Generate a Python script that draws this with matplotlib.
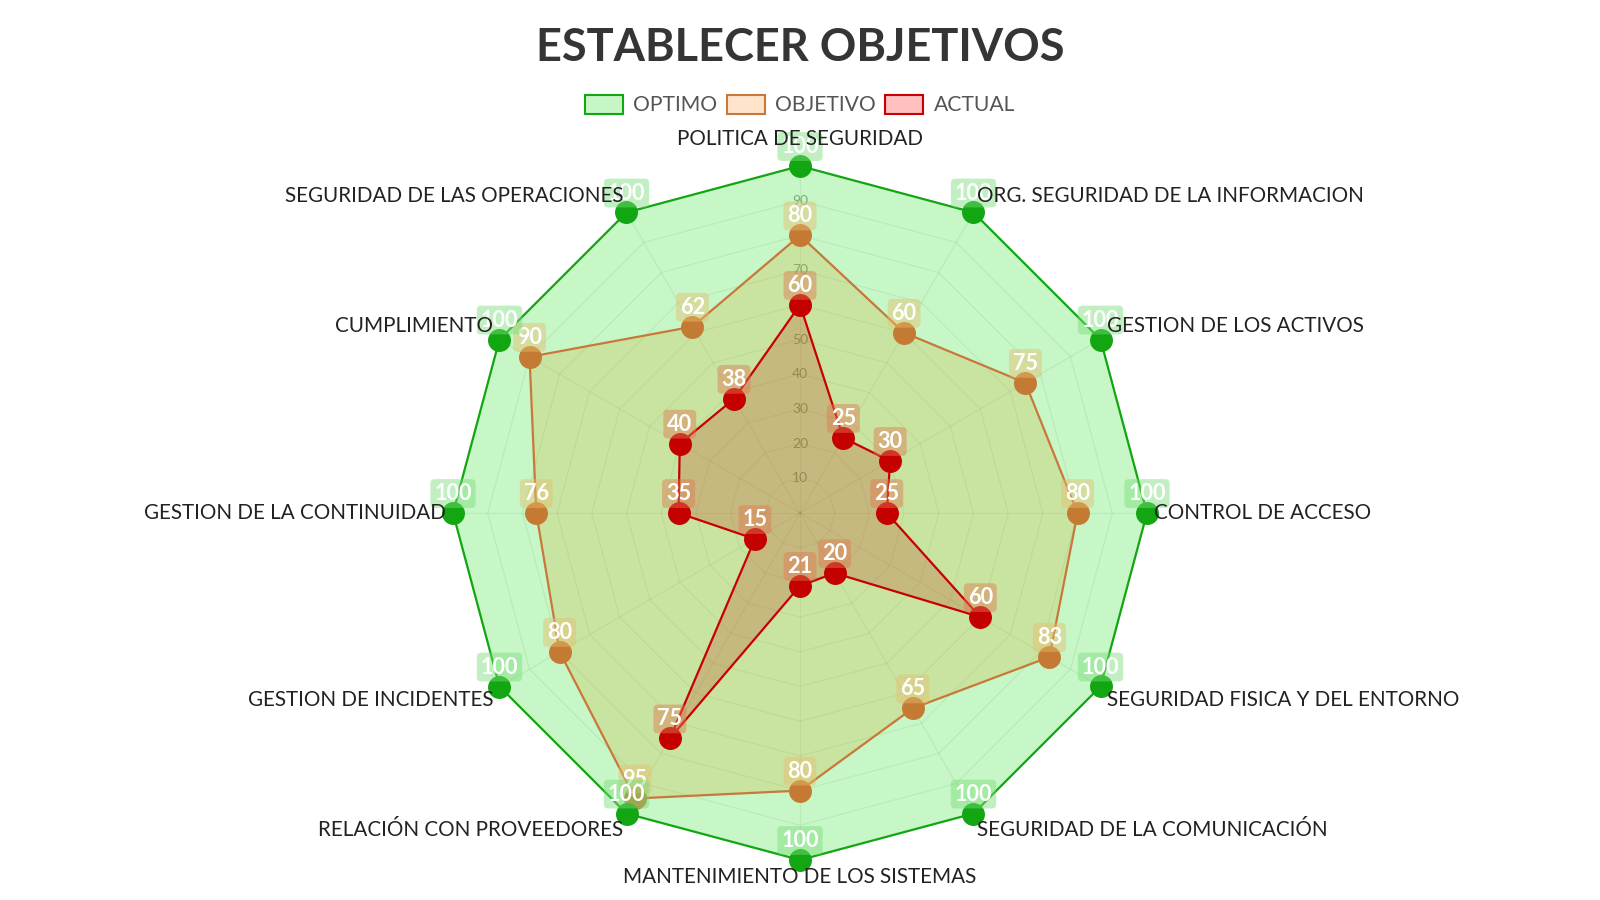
import numpy as np
import matplotlib.pyplot as plt
from matplotlib.patches import Patch

plt.rcParams['font.family'] = ['Lato', 'DejaVu Sans']

categorias = ['POLITICA DE SEGURIDAD', 'ORG. SEGURIDAD DE LA INFORMACION',
              'GESTION DE LOS ACTIVOS', 'CONTROL DE ACCESO',
              'SEGURIDAD FISICA Y DEL ENTORNO', 'SEGURIDAD DE LA COMUNICACIÓN',
              'MANTENIMIENTO DE LOS SISTEMAS', 'RELACIÓN CON PROVEEDORES',
              'GESTION DE INCIDENTES', 'GESTION DE LA CONTINUIDAD',
              'CUMPLIMIENTO', 'SEGURIDAD DE LAS OPERACIONES']
optimo = [100, 100, 100, 100, 100, 100, 100, 100, 100, 100, 100, 100]
objetivo = [80, 60, 75, 80, 83, 65, 80, 95, 80, 76, 90, 62]
actual = [60, 25, 30, 25, 60, 20, 21, 75, 15, 35, 40, 38]
niveles = [10, 20, 30, 40, 50, 60, 70, 80, 90, 100]
ticks = [10, 20, 30, 40, 50, 60, 70, 80, 90]

n = len(categorias)
theta = np.arange(n) * 2 * np.pi / n
theta_c = np.append(theta, theta[0])

fig = plt.figure(figsize=(16, 9), dpi=100)
ax = fig.add_axes([453 / 1600, 40 / 900, 694 / 1600, 694 / 900], projection='polar')
ax.set_theta_zero_location('N')
ax.set_theta_direction(-1)
ax.set_ylim(0, 100)
ax.set_xticks([])
ax.set_yticks([])
ax.grid(False)
ax.spines['polar'].set_visible(False)
ax.patch.set_alpha(0)

# rejilla poligonal
for r in niveles:
    ax.plot(theta_c, [r] * (n + 1), color=(0, 0, 0, 0.1), lw=0.9, zorder=0.5)
for t in theta:
    ax.plot([t, t], [0, 100], color=(0, 0, 0, 0.1), lw=0.9, zorder=0.5)
for r in ticks:
    ax.text(0, r, str(r), ha='center', va='center', fontsize=10,
            color='#666666', zorder=0.6)

series = [
    # valores, linea, punto, relleno, fondo etiqueta, z
    (optimo, '#12a612', '#12a612', (144/255, 238/255, 144/255, 0.5), (120/255, 220/255, 120/255, 0.45), 3),
    (objetivo, '#c8783a', '#c47a32', (210/255, 160/255, 10/255, 0.2), (230/255, 190/255, 110/255, 0.45), 2),
    (actual, '#c80000', '#c40000', (190/255, 15/255, 0, 0.2), (225/255, 120/255, 80/255, 0.45), 1),
]
for vals, lc, pc, fc, bc, z in series:
    v = np.append(vals, vals[0])
    ax.fill(theta_c, v, color=fc, lw=0, zorder=4 - z)
for vals, lc, pc, fc, bc, z in series:
    v = np.append(vals, vals[0])
    ax.plot(theta_c, v, color=lc, lw=1.6, zorder=4 + z)
    ax.plot(theta, vals, 'o', color=pc, markersize=15.5, mec=pc, zorder=4 + z + 0.5,
            clip_on=False)
for vals, lc, pc, fc, bc, z in series:
    for t, val in zip(theta, vals):
        ax.annotate(str(val), xy=(t, val), xytext=(0, 14), textcoords='offset points',
                    ha='center', va='center', color='white', fontweight='bold',
                    fontsize=15.6, annotation_clip=False, zorder=10 + z,
                    bbox=dict(boxstyle='round,pad=0.18,rounding_size=0.2', fc=bc, ec='none'))

# etiquetas de categorias
for i, (t, lab) in enumerate(zip(theta, categorias)):
    s, c = np.sin(t), np.cos(t)
    ha = 'center' if abs(s) < 1e-6 else ('left' if s > 0 else 'right')
    if abs(c) < 1e-6:
        va = 'center'
    elif c > 0:
        va = 'bottom'
    else:
        va = 'top'
    r = 105 if i == 0 else 102
    ax.text(t, r, lab, ha=ha, va=va, fontsize=14.9, color='#222222', clip_on=False,
            zorder=20)

fig.text(0.5, 1 - 48 / 900, 'ESTABLECER OBJETIVOS', ha='center', va='center',
         fontsize=32.5, fontweight='bold', color='#353535')

handles = [Patch(facecolor='#c6f5c6', edgecolor='#12a612', lw=1.5, label='OPTIMO'),
           Patch(facecolor='#ffe4cc', edgecolor='#c8783a', lw=1.5, label='OBJETIVO'),
           Patch(facecolor='#ffc0c0', edgecolor='#c80000', lw=1.5, label='ACTUAL')]
fig.legend(handles=handles, loc='center', bbox_to_anchor=(0.5, 1 - 105 / 900), ncol=3,
           frameon=False, fontsize=15.2, handlelength=1.8, handleheight=1.05,
           handletextpad=0.48, columnspacing=0.45, labelcolor='#555555')

fig.savefig('out.png', dpi=100)
